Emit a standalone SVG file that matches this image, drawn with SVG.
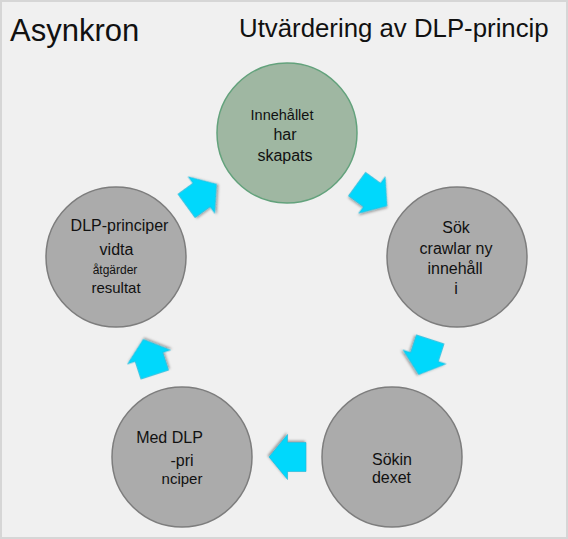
<svg xmlns="http://www.w3.org/2000/svg" xmlns:xlink="http://www.w3.org/1999/xlink" width="568" height="539" viewBox="0 0 568 539">
  <style>
    text { font-family: "Liberation Sans", Arial, sans-serif; fill: #111111; }
    .title { font-size: 31px; }
    .sub { font-size: 25.8px; }
    .lbl { font-size: 16px; text-anchor: middle; }
    .circ { fill: #ababab; stroke: #7d7d7d; stroke-width: 1.5; }
    .circg { fill: #9fb7a2; stroke: #63a27c; stroke-width: 1.5; }
    .arr { fill: #00d8fc; stroke: #22b6d6; stroke-width: 0.6; filter: url(#sh); }
  </style>
  <defs>
    <filter id="sh" x="-30%" y="-30%" width="160%" height="160%">
      <feDropShadow dx="1.2" dy="1.5" stdDeviation="1.2" flood-color="#000000" flood-opacity="0.35"/>
    </filter>
    <polygon id="arrow" points="-18.5,-14.5 0,-14.5 0,-22.5 18.5,0 0,22.5 0,14.5 -18.5,14.5"/>
  </defs>

  <rect x="1" y="1" width="566" height="537" fill="#f0f0f0" stroke="#d6d6d6" stroke-width="2"/>

  <text class="title" x="10" y="41">Asynkron</text>
  <text class="sub" x="239" y="37">Utvärdering av DLP-princip</text>

  <g id="connectors">
    <use href="#arrow" class="arr" transform="translate(201.5,195) rotate(-36)"/>
    <use href="#arrow" class="arr" transform="translate(372,195) rotate(36)"/>
    <use href="#arrow" class="arr" transform="translate(424.5,357) rotate(108)"/>
    <use href="#arrow" class="arr" transform="translate(287.5,457) rotate(180)"/>
    <use href="#arrow" class="arr" transform="translate(149,357) rotate(252)"/>
  </g>

  <g id="node-innehallet">
    <circle class="circg" cx="287" cy="133" r="70"/>
    <text class="lbl" x="282" y="120" style="font-size:14.5px">Innehållet</text>
    <text class="lbl" x="285" y="140">har</text>
    <text class="lbl" x="285" y="161">skapats</text>
  </g>

  <g id="node-sok">
    <circle class="circ" cx="457" cy="257" r="70"/>
    <text class="lbl" x="456" y="233">Sök</text>
    <text class="lbl" x="456" y="254">crawlar ny</text>
    <text class="lbl" x="455" y="274">innehåll</text>
    <text class="lbl" x="456" y="294">i</text>
  </g>

  <g id="node-sokindexet">
    <circle class="circ" cx="392" cy="457" r="70"/>
    <text class="lbl" x="392" y="465">Sökin</text>
    <text class="lbl" x="391.5" y="483">dexet</text>
  </g>

  <g id="node-med-dlp">
    <circle class="circ" cx="182" cy="457" r="70"/>
    <text class="lbl" x="169.5" y="443">Med DLP</text>
    <text class="lbl" x="182" y="466">-pri</text>
    <text class="lbl" x="182" y="484" style="font-size:15px">nciper</text>
  </g>

  <g id="node-dlp-principer">
    <circle class="circ" cx="116" cy="257" r="70"/>
    <text class="lbl" x="119.5" y="231">DLP-principer</text>
    <text class="lbl" x="116.5" y="255">vidta</text>
    <text class="lbl" x="115" y="274" style="font-size:12px">åtgärder</text>
    <text class="lbl" x="116" y="293" style="font-size:15px">resultat</text>
  </g>
</svg>
